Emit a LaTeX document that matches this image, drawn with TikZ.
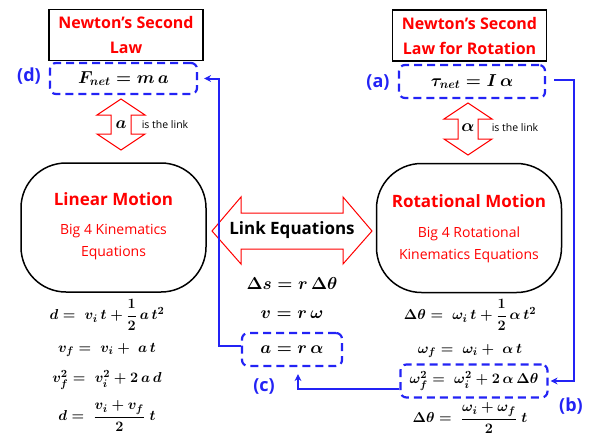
\documentclass[tikz,border=0pt]{standalone}
\usepackage{amsmath}
\usepackage[no-math]{fontspec}
\setmainfont{Open Sans}
\usetikzlibrary{arrows.meta}
\definecolor{linkblue}{RGB}{35,35,245}

\begin{document}
\begin{tikzpicture}[x=1pt, y=-1pt,
    every node/.style={inner sep=0pt},
    lawbox/.style={draw, line width=1.6pt, minimum width=154pt, minimum height=51pt, align=center, text=red, font=\fontsize{16}{25}\selectfont\bfseries},
    eqbox/.style={draw=linkblue, dash pattern=on 8pt off 5pt, line width=2.2pt, rounded corners=6pt},
    eqtag/.style={text=linkblue, font=\fontsize{18}{20}\selectfont\bfseries},
    motion/.style={draw, line width=1.5pt, rounded corners=45pt, minimum width=185pt, minimum height=129pt},
    motionhead/.style={text=red, font=\fontsize{17}{20}\selectfont\bfseries},
    subtext/.style={text=red, align=center, font=\fontsize{14}{22}\selectfont},
    eqn/.style={font=\fontsize{15}{18}\selectfont\boldmath},
    bigeqn/.style={font=\fontsize{17}{20}\selectfont\boldmath},
    linknote/.style={font=\fontsize{10.5}{12}\selectfont},
    fatarrow/.style={draw=red, line width=1pt, fill=white},
    conn/.style={draw=linkblue, line width=2pt, -{Stealth[length=7pt, width=7pt]}}
  ]
  \useasboundingbox (0,0) rectangle (599,442);

  % Newton's laws
  \node[lawbox] (law) at (126,35) {Newton’s Second\\Law};
  \node[lawbox] (rotlaw) at (469.5,35.5) {Newton’s Second\\Law for Rotation};
  \node[eqbox, minimum width=147pt, minimum height=31pt, bigeqn] (fnet) at (123.5,78.5) {$F_{net} = m\,a$};
  \node[eqbox, minimum width=146pt, minimum height=33pt, bigeqn] (taunet) at (472,81.5) {$\tau_{net} = I\,\alpha$};
  \node[eqtag] (tagd) at (29,76) {(d)};
  \node[eqtag] (taga) at (378,82) {(a)};

  % "is the link" arrows
  \draw[fatarrow] (121,99) -- (145,115) -- (131,115) -- (131,134) -- (145,134) -- (121,150)
    -- (97,134) -- (111,134) -- (111,115) -- (97,115) -- cycle;
  \node[bigeqn] (linka) at (121,125) {$a$};
  \node[linknote] (notea) at (165,125) {is the link};
  \draw[fatarrow] (468,103) -- (492,119) -- (478,119) -- (478,139) -- (492,139) -- (468,155)
    -- (444,139) -- (458,139) -- (458,119) -- (444,119) -- cycle;
  \node[bigeqn] (linkalpha) at (468,128) {$\alpha$};
  \node[linknote] (notealpha) at (515,128) {is the link};

  % motion boxes
  \node[motion] (linear) at (113.5,227.5) {};
  \node[motionhead] (linhead) at (113.5,199) {Linear Motion};
  \node[subtext] (linsub) at (113.5,242) {Big 4 Kinematics\\Equations};
  \node[motion] (rotational) at (469,228) {};
  \node[motionhead] (rothead) at (469,201) {Rotational Motion};
  \node[subtext] (rotsub) at (469,245) {Big 4 Rotational\\Kinematics Equations};

  % link equations
  \draw[fatarrow] (212,231) -- (241,197) -- (241,213) -- (343,213) -- (343,197) -- (372,231)
    -- (343,264) -- (343,249) -- (241,249) -- (241,264) -- cycle;
  \node[font=\fontsize{17}{20}\selectfont\bfseries] (linkeq) at (292,230) {Link Equations};
  \node[bigeqn] (arc) at (292,283) {$\Delta s = r\,\Delta\theta$};
  \node[bigeqn] (speed) at (292,315) {$v = r\,\omega$};
  \node[eqbox, minimum width=100pt, minimum height=33pt, bigeqn] (accel) at (292,349.5) {$a = r\,\alpha$};
  \node[eqtag] (tagc) at (264,386) {(c)};

  % kinematics
  \node[eqn] (lin1) at (107,315) {$d = \; v_i\,t + \dfrac{1}{2}\,a\,t^2$};
  \node[eqn] (lin2) at (107,350) {$v_f = \; v_i + \; a\,t$};
  \node[eqn] (lin3) at (107,380) {$v_f^2 = \; v_i^2 + 2\,a\,d$};
  \node[eqn] (lin4) at (107,416) {$d = \; \dfrac{v_i + v_f}{2}\;t$};
  \node[eqn] (rot1) at (470,315) {$\Delta\theta = \; \omega_i\,t + \dfrac{1}{2}\,\alpha\,t^2$};
  \node[eqn] (rot2) at (470,351) {$\omega_f = \; \omega_i + \; \alpha\,t$};
  \node[eqbox, minimum width=147pt, minimum height=33pt, eqn] (rot3) at (474,381) {$\omega_f^2 = \; \omega_i^2 + 2\,\alpha\,\Delta\theta$};
  \node[eqn] (rot4) at (470,418) {$\Delta\theta = \; \dfrac{\omega_i + \omega_f}{2}\;t$};
  \node[eqtag] (tagb) at (571,406) {(b)};

  % connectors
  \draw[conn] ([xshift=8pt, yshift=2pt]taunet.east) -- ++(20,0) |- ([xshift=2pt]rot3.east);
  \draw[conn] ([yshift=-8pt]rot3.west) -| ([xshift=6pt, yshift=-7pt]accel.south);
  \draw[conn] ([yshift=4pt]accel.west) -- ++(-22,0) |- ([xshift=6pt]fnet.east);
\end{tikzpicture}
\end{document}
